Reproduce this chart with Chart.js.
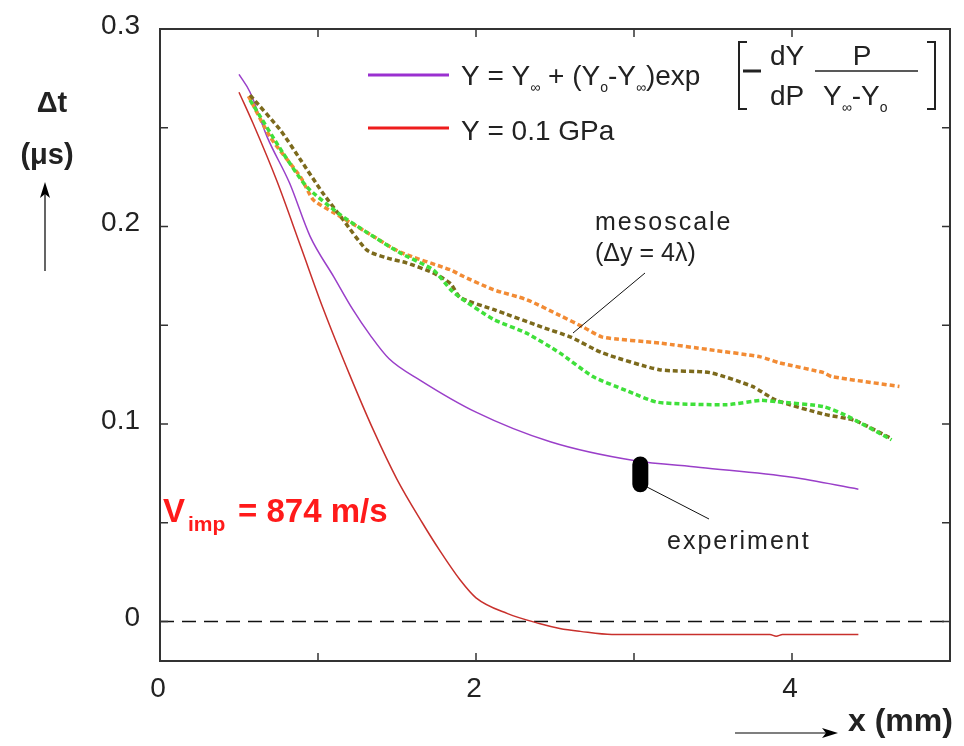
<!DOCTYPE html>
<html>
<head>
<meta charset="utf-8">
<script src="https://cdn.jsdelivr.net/npm/chart.js@4.4.1/dist/chart.umd.min.js"></script>
<style>
  html, body { margin: 0; padding: 0; background: #fff; }
  #wrap { width: 964px; height: 746px; }
</style>
</head>
<body>
<div id="wrap"><canvas id="chart" width="964" height="746"></canvas></div>
<script>
// values (x in mm, dt in microseconds)
const purpleX = [0.5, 0.57, 0.68, 0.82, 0.95, 1.1, 1.22, 1.33, 1.45, 1.65, 2.0, 2.47, 3.0, 3.42, 4.0, 4.42];
const purpleY = [0.277, 0.268, 0.245, 0.222, 0.195, 0.1745, 0.158, 0.145, 0.133, 0.122, 0.106, 0.091, 0.0815, 0.078, 0.073, 0.067];

const redX = [0.5, 0.59, 0.74, 0.89, 1.03, 1.2, 1.35, 1.5, 1.66, 1.77, 1.9, 2.0, 2.2, 2.4, 2.53, 2.66, 2.86, 3.5, 3.86, 3.9, 3.94, 4.42];
const redY = [0.268, 0.252, 0.223, 0.19, 0.159, 0.125, 0.097, 0.072, 0.05, 0.036, 0.021, 0.012, 0.004, -0.001, -0.0035, -0.005, -0.0066, -0.0066, -0.0066, -0.0075, -0.0066, -0.0066];

const orangeX = [0.56, 0.7, 0.89, 0.97, 1.1, 1.31, 1.52, 1.84, 1.9, 2.11, 2.32, 2.53, 2.68, 2.8, 3.16, 3.48, 3.8, 3.92, 4.2, 4.25, 4.68];
const orangeY = [0.266, 0.245, 0.225, 0.2135, 0.207, 0.197, 0.187, 0.178, 0.1755, 0.168, 0.163, 0.155, 0.149, 0.144, 0.141, 0.1376, 0.134, 0.131, 0.126, 0.124, 0.119];

const oliveX = [0.57, 0.76, 0.89, 1.03, 1.16, 1.31, 1.44, 1.56, 1.73, 1.84, 1.9, 2.11, 2.42, 2.6, 2.8, 3.16, 3.48, 3.75, 3.9, 4.2, 4.4, 4.63];
const oliveY = [0.2665, 0.249, 0.2337, 0.217, 0.2033, 0.188, 0.184, 0.1816, 0.1765, 0.171, 0.164, 0.158, 0.149, 0.144, 0.136, 0.1275, 0.126, 0.119, 0.112, 0.105, 0.1017, 0.0926];

const greenX = [0.57, 0.78, 0.93, 1.14, 1.31, 1.52, 1.73, 1.84, 1.9, 2.11, 2.32, 2.53, 2.74, 2.95, 3.15, 3.59, 3.8, 3.9, 4.2, 4.35, 4.63];
const greenY = [0.264, 0.237, 0.22, 0.206, 0.197, 0.1866, 0.178, 0.168, 0.164, 0.153, 0.146, 0.136, 0.124, 0.117, 0.111, 0.1098, 0.112, 0.1113, 0.1088, 0.104, 0.092];

// experiment bar and the zero reference line
const experimentX = [3.04, 3.04];
const experimentY = [0.0795, 0.0695];
const zeroX = [0, 5];
const zeroY = [0, 0];

const xTickLabels = [0, 2, 4];
const yTickLabels = [0.3, 0.2, 0.1, 0];
const xMinorTicks = [1, 2, 3, 4];
const yMinorTicks = [0, 0.05, 0.1, 0.15, 0.2, 0.25];

function pts(xs, ys) {
    return xs.map((x, i) => ({ x: x, y: ys[i] }));
}

const FONT = '"Liberation Sans", Arial, sans-serif';

// frame, inward ticks, tick labels and all the text around the plot
const decorations = {
    id: 'decorations',
    afterDraw(chart) {
        const ctx = chart.ctx;
        const a = chart.chartArea;
        const xs = chart.scales.x, ys = chart.scales.y;
        ctx.save();

        ctx.strokeStyle = '#333';
        ctx.lineWidth = 2;
        ctx.strokeRect(a.left, a.top, a.right - a.left, a.bottom - a.top);

        ctx.lineWidth = 1.5;
        ctx.beginPath();
        xMinorTicks.forEach(v => {
            const px = xs.getPixelForValue(v);
            ctx.moveTo(px, a.bottom); ctx.lineTo(px, a.bottom - 8);
            ctx.moveTo(px, a.top); ctx.lineTo(px, a.top + 8);
        });
        yMinorTicks.forEach(v => {
            const py = ys.getPixelForValue(v);
            ctx.moveTo(a.left, py); ctx.lineTo(a.left + 8, py);
            ctx.moveTo(a.right, py); ctx.lineTo(a.right - 8, py);
        });
        ctx.stroke();

        ctx.fillStyle = '#222';
        ctx.font = '28px ' + FONT;
        ctx.textAlign = 'right';
        ctx.textBaseline = 'middle';
        yTickLabels.forEach(v => ctx.fillText(String(v), a.left - 20, ys.getPixelForValue(v) - 3));
        ctx.textAlign = 'center';
        ctx.textBaseline = 'top';
        xTickLabels.forEach(v => ctx.fillText(String(v), xs.getPixelForValue(v) - 2, a.bottom + 14));

        // axis titles with arrows
        ctx.font = 'bold 29px ' + FONT;
        ctx.textBaseline = 'middle';
        ctx.fillText('\u0394t', 52, 104);
        ctx.fillText('(\u03bcs)', 47, 156);
        ctx.textAlign = 'left';
        ctx.font = 'bold 32px ' + FONT;
        ctx.fillText('x (mm)', 848, 722);

        ctx.strokeStyle = '#000';
        ctx.fillStyle = '#000';
        ctx.lineWidth = 1.2;
        ctx.beginPath();
        ctx.moveTo(45, 271); ctx.lineTo(45, 188);
        ctx.moveTo(735, 733); ctx.lineTo(830, 733);
        ctx.stroke();
        ctx.beginPath();
        ctx.moveTo(45, 182); ctx.lineTo(40, 198); ctx.lineTo(45, 194); ctx.lineTo(50, 198); ctx.closePath();
        ctx.fill();
        ctx.beginPath();
        ctx.moveTo(838, 733); ctx.lineTo(822, 728); ctx.lineTo(826, 733); ctx.lineTo(822, 738); ctx.closePath();
        ctx.fill();

        // legend samples
        ctx.lineWidth = 3;
        ctx.strokeStyle = '#9a30d0';
        ctx.beginPath(); ctx.moveTo(368, 75); ctx.lineTo(449, 75); ctx.stroke();
        ctx.strokeStyle = '#ee1c1c';
        ctx.beginPath(); ctx.moveTo(368, 128); ctx.lineTo(449, 128); ctx.stroke();

        // legend text with sub scripts
        ctx.fillStyle = '#222';
        ctx.textAlign = 'left';
        ctx.textBaseline = 'alphabetic';
        const big = '28px ' + FONT, small = '14px ' + FONT;
        function run(parts, x, y) {
            parts.forEach(p => {
                ctx.font = p[1] ? small : big;
                ctx.fillText(p[0], x, y + (p[1] ? 7 : 0));
                x += ctx.measureText(p[0]).width;
            });
            return x;
        }
        run([['Y = Y'], ['\u221e', 1], [' + (Y'], ['o', 1], ['-Y'], ['\u221e', 1], [')exp']], 461, 85);
        run([['Y = 0.1 GPa']], 461, 140);

        // bracket term
        ctx.strokeStyle = '#222';
        ctx.lineWidth = 2;
        ctx.beginPath();
        ctx.moveTo(747, 42); ctx.lineTo(739, 42); ctx.lineTo(739, 109); ctx.lineTo(747, 109);
        ctx.moveTo(927, 42); ctx.lineTo(935, 42); ctx.lineTo(935, 109); ctx.lineTo(927, 109);
        ctx.stroke();
        ctx.lineWidth = 3;
        ctx.beginPath(); ctx.moveTo(743, 71); ctx.lineTo(761, 71); ctx.stroke();
        ctx.lineWidth = 1.5;
        ctx.beginPath(); ctx.moveTo(815, 71); ctx.lineTo(918, 71); ctx.stroke();
        ctx.font = big;
        ctx.textAlign = 'center';
        ctx.fillText('dY', 787, 65);
        ctx.fillText('dP', 787, 105);
        ctx.fillText('P', 862, 65);
        ctx.textAlign = 'left';
        run([['Y'], ['\u221e', 1], ['-Y'], ['o', 1]], 823, 105);

        // annotations
        ctx.font = '25px ' + FONT;
        ctx.letterSpacing = '2px';
        ctx.fillText('mesoscale', 595, 230);
        ctx.letterSpacing = '0px';
        ctx.fillText('(\u0394y = 4\u03bb)', 595, 261);
        ctx.letterSpacing = '2px';
        ctx.fillText('experiment', 667, 549);
        ctx.letterSpacing = '0px';
        ctx.strokeStyle = '#111';
        ctx.lineWidth = 1;
        ctx.beginPath();
        ctx.moveTo(645, 273); ctx.lineTo(573, 333);
        ctx.moveTo(647, 487); ctx.lineTo(709, 519);
        ctx.stroke();

        ctx.fillStyle = '#ff1a1a';
        ctx.font = 'bold 33px ' + FONT;
        ctx.fillText('V', 163, 522);
        ctx.font = 'bold 21px ' + FONT;
        ctx.fillText('imp', 188, 531);
        ctx.font = 'bold 33px ' + FONT;
        ctx.fillText('= 874 m/s', 238, 522);

        ctx.restore();
    }
};

const dotted = { borderWidth: 3.5, borderDash: [5, 3], pointRadius: 0, tension: 0.2, fill: false };

new Chart(document.getElementById('chart'), {
    type: 'line',
    data: {
        datasets: [
            { label: 'experiment', data: pts(experimentX, experimentY), borderColor: '#000', borderWidth: 16, borderCapStyle: 'round', pointRadius: 0 },
            Object.assign({ label: 'mesoscale green', data: pts(greenX, greenY), borderColor: '#3fe03a' }, dotted),
            Object.assign({ label: 'mesoscale olive', data: pts(oliveX, oliveY), borderColor: '#7c6a1c' }, dotted),
            Object.assign({ label: 'mesoscale orange', data: pts(orangeX, orangeY), borderColor: '#f28b34' }, dotted),
            { label: 'Y(P)', data: pts(purpleX, purpleY), borderColor: '#9a3fc9', borderWidth: 1.5, pointRadius: 0, cubicInterpolationMode: 'monotone' },
            { label: 'Y = 0.1 GPa', data: pts(redX, redY), borderColor: '#c8302c', borderWidth: 1.5, pointRadius: 0, cubicInterpolationMode: 'monotone' },
            { label: 'zero', data: pts(zeroX, zeroY), borderColor: '#111', borderWidth: 1.5, borderDash: [14, 8], pointRadius: 0 }
        ]
    },
    options: {
        responsive: false,
        animation: false,
        layout: { padding: { left: 160, top: 29, right: 14, bottom: 85 } },
        plugins: { legend: { display: false }, tooltip: { enabled: false } },
        scales: {
            x: { type: 'linear', min: 0, max: 5, display: false },
            y: { type: 'linear', min: -0.02, max: 0.3, display: false }
        }
    },
    plugins: [decorations]
});
</script>
</body>
</html>
